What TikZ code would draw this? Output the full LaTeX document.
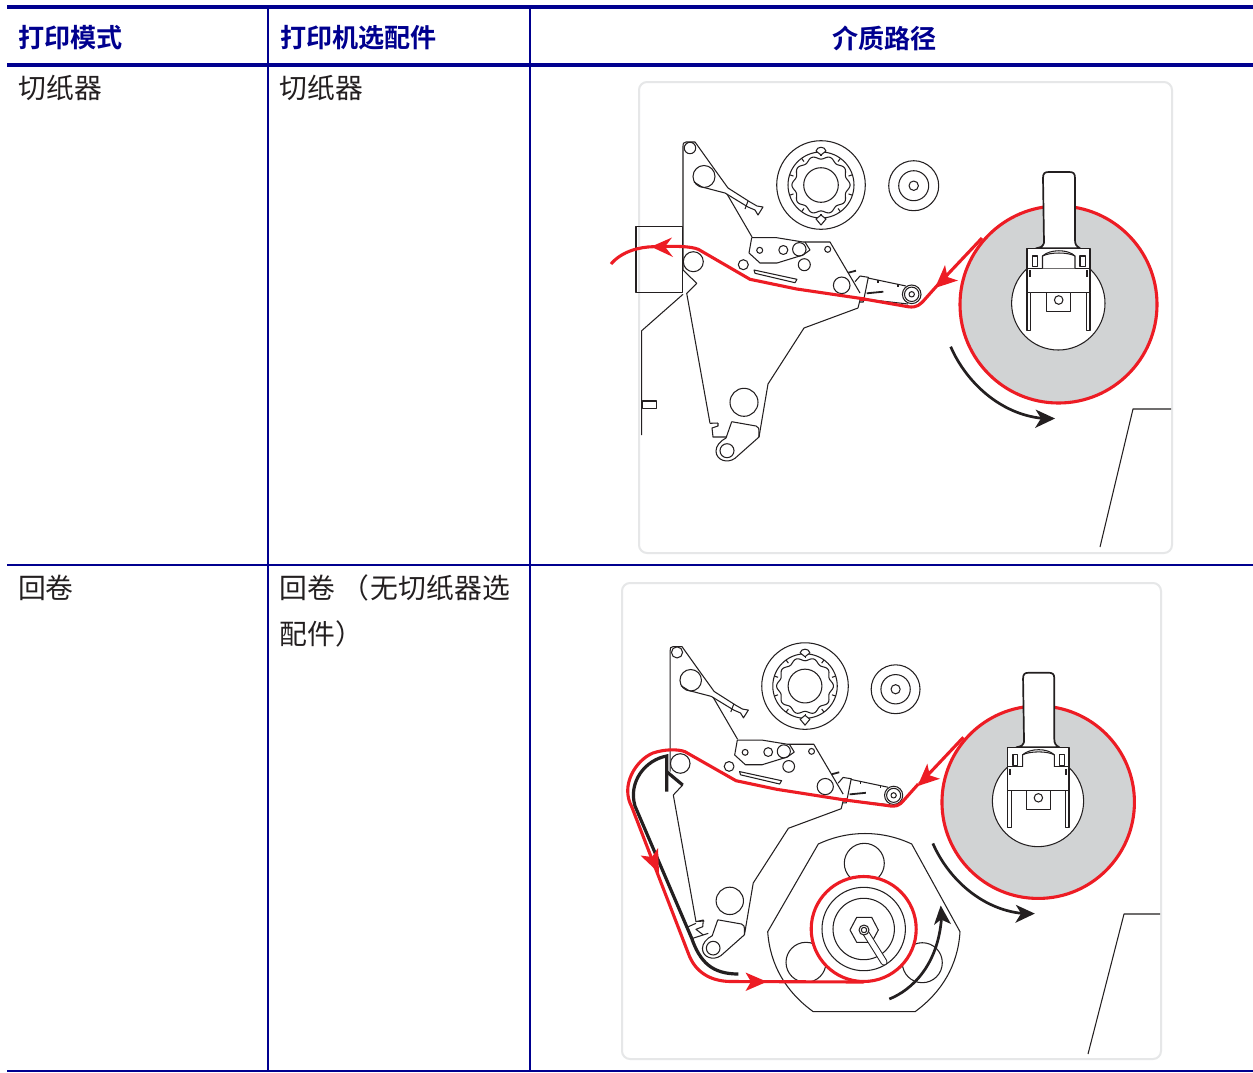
\documentclass[tikz,border=0pt]{standalone}
\usepackage{fontspec}
\newfontfamily\cjk{Noto Sans CJK SC}
\newfontfamily\cjkb{Noto Sans CJK SC Bold}
\definecolor{navy}{HTML}{00008F}
\definecolor{redline}{HTML}{ED1C24}
\definecolor{rollgray}{HTML}{D1D3D4}
\definecolor{framegray}{HTML}{E6E7E8}
\definecolor{inkline}{HTML}{231F20}
\tikzset{
  thin line/.style={draw=inkline,line width=1.05pt,line join=round},
  red path/.style={draw=redline,line width=3.1pt,line join=round},
  black path/.style={draw=inkline,line width=2.7pt},
  frame box/.style={draw=framegray,line width=2pt,rounded corners=8pt},
  rule/.style={draw=navy},
  head text/.style={text=navy,font=\cjkb\fontsize{26.1}{30}\selectfont,inner sep=0pt},
  body text/.style={text=inkline,font=\cjk\fontsize{27.8}{32}\selectfont,inner sep=0pt}
}
\newcommand{\ahead}[5]{\fill[#5] #1 -- #2 -- #3 -- #4 -- cycle;}
% upper mechanism (arm, plates, rollers)
\newcommand{\upperparts}{%
  \draw[thin line] (683,270) -- (683,146) .. controls (683,143) .. (686,142) -- (695,142) -- (715,170) -- (728,188) -- (750,202) -- (757,206) -- (763,207) -- (758,215) -- (755,210) -- (748,207) -- (725,193) -- (702,187) -- (694,182);
  \draw[thin line] (748,201) -- (745,209);
  \draw[thin line] (690,148) circle (5.7);
  \draw[thin line] (704,176.5) circle (11);
  \draw[thin line] (727,194) -- (752,237);
  % plates
  \draw[thin line] (751.7,237.7) -- (776.7,237.7) -- (803,242) -- (830,242) -- (860,293);
  \draw[thin line] (751.7,237.7) -- (749,253) -- (760,263) -- (777,263) -- (803,255) -- (810,250) -- (805,242);
  \draw[thin line] (754,270) -- (797,279.3) -- (795,282.7) -- (755,273.3) -- cycle;
  \foreach \cx/\cy/\cr in {759.7/250.3/3,783.3/250/4.5,799.3/249.3/6.7,827.7/249.3/3,804.3/264.7/6,743.3/264.7/5,841.7/285.3/8.3,693.3/261.7/10,744/402.3/14,727/450.7/7}
    {\draw[thin line] (\cx,\cy) circle (\cr);}
  % tension arm
  \draw[thin line] (858,308) -- (804,328) -- (768,384) -- (759,437);
  \draw[thin line] (858,308) -- (860,300);
  \draw[thin line] (855,281.7) -- (860,276) -- (868.3,277.3) -- (863.3,302) -- (859.3,302);
  \draw[thin line] (868,278) -- (906,286);
  \draw[thin line] (878,280) -- (878,283);
  \draw[thin line] (898,284) -- (898,287);
  \draw[thin line] (911.7,294.3) circle (9.3);
  \draw[thin line] (911.7,294.3) circle (7.2);
  \draw[thin line] (911.7,294.3) circle (2.7);
  \draw[thin line] (864,299) -- (908,304);
  \draw[thin line,line width=1.8pt] (866.7,293.3) -- (883.3,291.7);
  \draw[thin line,line width=1.8pt] (848.3,272.7) -- (856,270.7);
  \fill[redline] (859.5,297) rectangle (864.5,301);
  % foot
  \draw[thin line] (731.7,421.7) -- (756,426) .. controls (759,427) .. (759,437) -- (735,458.3) .. controls (727,464) and (716,460) .. (716,451) .. controls (716,446) and (720,441) .. (726,438) -- (731.7,421.7);
  \draw[thin line] (718,423) -- (710,423.3);
}
\newcommand{\hubparts}{%
  \draw[thin line] (821,185) circle (44.3);
  \draw[thin line] (821,185) circle (17.3);
  \draw[thin line] (821,185) circle (33);
  \draw[thin line,smooth] plot[domain=0:360,samples=121] ({821+(27.5+1.6*cos(10*\x))*cos(\x)},{185+(27.5+1.6*cos(10*\x))*sin(\x)});
  \foreach \a in {18,54,90,126,162,198,234,270,306,342}
    {\draw[thin line] ({821+29*cos(\a)},{185+29*sin(\a)}) -- ({821+33*cos(\a)},{185+33*sin(\a)});}
  \draw[thin line,fill=white] (816,151) .. controls (817,146) and (825,146) .. (826,151) -- (821,155) -- cycle;
  \draw[thin line,fill=white] (816,219) -- (821,225) -- (826,219) -- (821,215) -- cycle;
}
\newcommand{\smallreel}{%
  \draw[thin line] (913.7,185.7) circle (25);
  \draw[thin line] (913.7,185.7) circle (15);
  \draw[thin line] (913.7,185.7) circle (4.7);
}
% supply roll, its hanger and the two arrows
\newcommand{\rollparts}{%
  \draw[red path,fill=rollgray] (1058.5,304.5) circle (98.5);
  \draw[thin line,fill=white] (1058.3,303.3) circle (46.7);
  \draw[draw=inkline,line width=1.7pt,fill=white,line join=round] (1044,243) -- (1043,178) .. controls (1043,173) and (1045,172) .. (1049,172) -- (1069,172) .. controls (1073,172) and (1075,173) .. (1075,178) -- (1075,240) .. controls (1075,244) and (1076,246) .. (1080,248.3) -- (1036,248.3) .. controls (1042,247) .. (1044,243);
  \draw[thin line,fill=white] (1027,248.3) rectangle (1090,268.3);
  \draw[thin line,fill=white] (1027,268.3) rectangle (1090,292.3);
  \draw[thin line,fill=white] (1042.5,268.3) -- (1042.5,256) .. controls (1050,249) and (1068,249) .. (1075,256) -- (1075,268.3);
  \draw[thin line] (1042.5,256) .. controls (1050,252) and (1068,252) .. (1075,256);
  \draw[thin line,fill=white] (1032.7,256) rectangle (1037.3,266.7);
  \draw[thin line,fill=white] (1080,256) rectangle (1085.3,266.7);
  \fill[inkline] (1029,270) rectangle (1031,277);
  \fill[inkline] (1086,270) rectangle (1088,277);
  \draw[thin line,fill=white] (1027,292.3) rectangle (1030.7,330.7);
  \draw[thin line,fill=white] (1086.7,292.3) rectangle (1090,330.7);
  \draw[thin line,fill=white] (1046.7,292.3) rectangle (1070.7,311.7);
  \draw[thin line] (1058.7,300) circle (4.3);
  \draw[red path] (982,238) -- (936.7,286);
  \ahead{(935,288)}{(945,265)}{(947.5,277)}{(958,280.5)}{redline}
  \draw[black path] (950.7,346.7) .. controls (966,382) and (1000,414) .. (1042,418.3);
  \ahead{(1055,418.5)}{(1035.5,409.5)}{(1041,418.3)}{(1035,428)}{inkline}
}
\begin{document}
\begin{tikzpicture}[x=1pt,y=-1pt]
\useasboundingbox (0,0) rectangle (1253,1072);
\fill[white] (0,0) rectangle (1253,1072);
% table
\draw[rule,line width=3.4pt] (7,7) -- (1253,7);
\draw[rule,line width=3.4pt] (7,65) -- (1253,65);
\draw[rule,line width=1.6pt] (7,565) -- (1253,565);
\draw[rule,line width=1.8pt] (7,1071) -- (1253,1071);
\draw[rule,line width=2pt] (268,7) -- (268,1071);
\draw[rule,line width=2pt] (530,7) -- (530,1071);
\node[head text,anchor=west] (h1) at (18,38) {打印模式};
\node[head text,anchor=west] (h2) at (280,38) {打印机选配件};
\node[head text] (h3) at (884.5,38) {介质路径};
\node[body text,anchor=west] (a1) at (18.5,88) {切纸器};
\node[body text,anchor=west] (b1) at (279.5,88) {切纸器};
\node[body text,anchor=west] (a2) at (18,588) {回卷};
\node[body text,anchor=west] (b2) at (279.5,588) {回卷 （\hspace{1.5pt}无切纸器选};
\node[body text,anchor=west] (b3) at (279.5,634) {配件）};
% ---------- figure 1
\draw[frame box] (639,82) rectangle (1172,553);
\draw[thin line] (1100,547) -- (1133,409) -- (1171,409);
\upperparts
\hubparts
\smallreel
\draw[thin line] (683,270) -- (696.7,283.3) -- (686.7,293.3) -- (710,423.3);
\draw[thin line] (718,423) -- (718,426) -- (712,428) -- (713,437) -- (726.7,437);
\draw[thin line] (636,226.7) rectangle (682.7,292.3);
\draw[thin line] (683,294.3) -- (641.7,330.7) -- (641.7,435);
\draw[thin line] (642.3,401) rectangle (656.7,408.7);
\rollparts
\draw[red path] (936.7,286) -- (926,298) .. controls (920,305) and (917,308) .. (908,306.7) -- (860,298.3) -- (796.7,289) -- (750,279.3) -- (698.3,249.3) .. controls (690,246) and (675,246) .. (653,246.7) .. controls (640,247) and (622,251) .. (611,264);
\ahead{(651,246.7)}{(672,237.5)}{(665,246.7)}{(673,257)}{redline}
% ---------- figure 2
\draw[frame box] (622,583) rectangle (1161,1059);
\draw[thin line] (1088,1054) -- (1124,914) -- (1160,914);
\begin{scope}[shift={(2.9,507.8)},scale=.977]
  \upperparts
  \smallreel
\end{scope}
\begin{scope}[shift={(2.9,505.3)},scale=.977]
  \hubparts
\end{scope}
\begin{scope}[shift={(4.04,504.7)},scale=.977]
  \rollparts
\end{scope}
\draw[thin line] (669.3,773) -- (682.7,785) -- (673.3,795) -- (696,921.7);
\draw[thin line] (696,921.7) -- (703.3,920) -- (702.7,926.7) -- (696,929.3) -- (703.3,935);
\draw[thin line] (688.3,926.7) -- (696,923.3);
\draw[thin line] (692.7,938.3) -- (708.3,933.3);
% take-up unit
\draw[thin line] (818.3,844) .. controls (848,830) and (882,830) .. (911.7,844) -- (960,931.7) .. controls (958,965) and (942,992) .. (915,1011.7) -- (813.3,1011.7) .. controls (786,992) and (770,965) .. (767.7,931.7) -- cycle;
\draw[thin line] (864.3,863.3) circle (20);
\draw[thin line] (806,962.3) circle (20);
\draw[thin line] (922.3,962.7) circle (20);
\draw[red path,fill=white] (863.7,929) circle (52.5);
\draw[thin line] (863.7,929) circle (41.7);
\draw[thin line] (863.7,929) circle (30.7);
\draw[thin line] (878.3,930) -- (871.7,917.3) -- (856.7,917.3) -- (850,930) -- (856.7,942.3) -- (871.7,942.3) -- cycle;
\draw[draw=inkline,line width=7pt,line cap=round] (864,930) -- (884,962);
\draw[draw=white,line width=5pt,line cap=round] (864,930) -- (884,962);
\draw[thin line,fill=white] (864,930) circle (5);
\draw[thin line] (864,930) circle (2.7);
% backing plate
\draw[black path,line width=3.2pt] (666.7,791.7) -- (666.7,756) .. controls (645,760) and (628,782) .. (635,806) -- (691.7,938.3) .. controls (700,962) and (712,974) .. (738.3,974);
\draw[black path,line width=3.2pt] (666.7,771.7) -- (682.7,785);
% red media path
\draw[red path] (918.3,784) -- (904,800) .. controls (899,806) and (896,807) .. (888,805.6) -- (845,800) -- (776.7,789.3) -- (736,780.7) -- (685,751.7) .. controls (678,749) and (665,749) .. (653,753) .. controls (636,760) and (620,785) .. (631.7,806.7) -- (688.3,953.3) .. controls (695,972) and (710,981) .. (730,981.5) -- (863.7,982);
\ahead{(767,981.7)}{(745.5,972.5)}{(751,981.7)}{(745.5,991)}{redline}
\ahead{(659,873)}{(640.5,855.5)}{(652,857)}{(658,848)}{redline}
% take-up arrow
\draw[black path] (889.3,999) .. controls (912,990) and (938,965) .. (941.5,918);
\ahead{(940.7,905.5)}{(934,925)}{(941,919.5)}{(951,924)}{inkline}
\end{tikzpicture}
\end{document}
